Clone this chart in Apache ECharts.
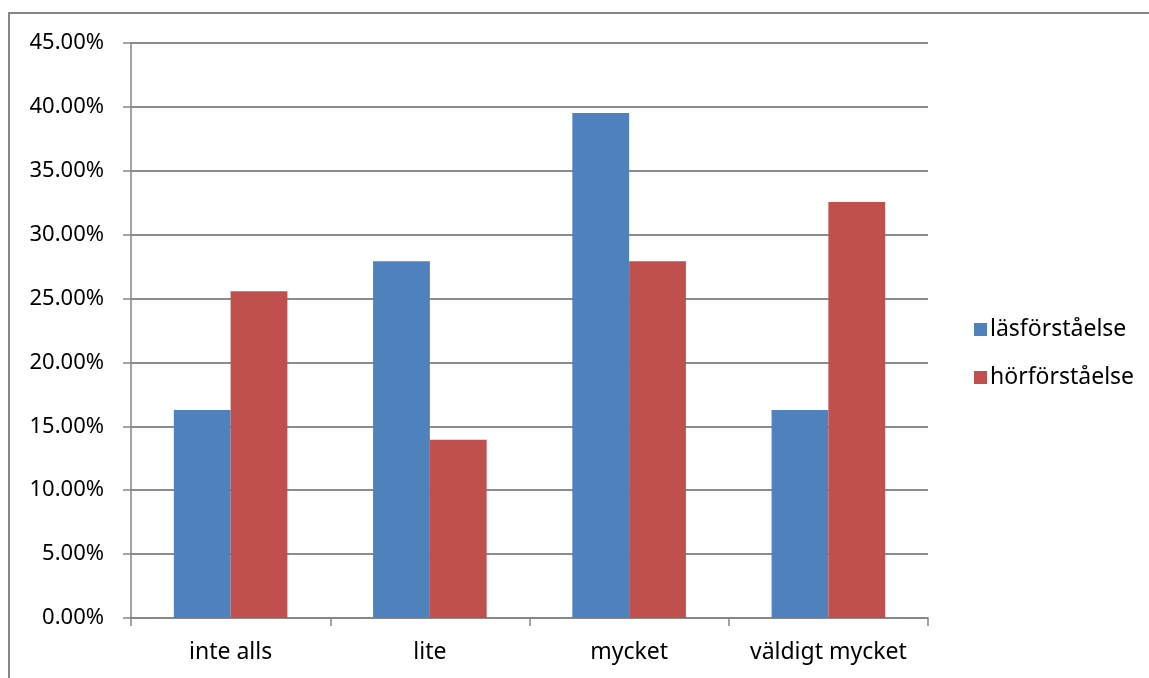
<!DOCTYPE html>
<html>
<head>
<meta charset="utf-8">
<script src="https://cdn.jsdelivr.net/npm/echarts@6/dist/echarts.min.js"></script>
<style>
  html, body { margin: 0; padding: 0; background: #ffffff; }
  #chart { width: 1149px; height: 678px; }
</style>
</head>
<body>
<div id="chart"></div>
<script>
// Response categories
const categories = ['inte alls', 'lite', 'mycket', 'väldigt mycket'];
// Share of responses (%) per category
const lasforstaelse = [16.28, 27.91, 39.53, 16.28];
const horforstaelse = [25.58, 13.95, 27.91, 32.56];
const seriesNames = ['läsförståelse', 'hörförståelse'];
// Value axis range and step (%)
const yMin = 0, yMax = 45, yStep = 5;

const FONT = 'Noto Sans';
const chart = echarts.init(document.getElementById('chart'));

chart.setOption({
  animation: false,
  backgroundColor: '#ffffff',
  textStyle: { fontFamily: FONT },
  graphic: [{
    type: 'rect',
    shape: { x: 9, y: 13, width: 1300, height: 800 },
    style: { fill: 'none', stroke: '#868686', lineWidth: 2 },
    silent: true
  }],
  grid: { left: 131, right: 221, top: 43, bottom: 60 },
  legend: {
    orient: 'vertical',
    left: 969,
    top: 313,
    itemWidth: 13,
    itemHeight: 13,
    itemGap: 25,
    icon: 'rect',
    textStyle: { fontFamily: FONT, fontSize: 23, color: '#000000', padding: [0, 0, 0, -2] },
    data: seriesNames
  },
  xAxis: {
    type: 'category',
    data: categories,
    axisLine: { lineStyle: { color: '#868686', width: 1.5 } },
    axisTick: { show: true, interval: 0, length: 8, alignWithLabel: false, lineStyle: { color: '#868686', width: 1.5 } },
    axisLabel: { interval: 0, color: '#000000', fontFamily: FONT, fontSize: 23, margin: 23 }
  },
  yAxis: {
    type: 'value',
    min: yMin,
    max: yMax,
    interval: yStep,
    axisLine: { show: true, lineStyle: { color: '#868686', width: 1.5 } },
    axisTick: { show: true, length: 8, lineStyle: { color: '#868686', width: 1.5 } },
    axisLabel: {
      color: '#000000', fontFamily: FONT, fontSize: 22, margin: 27,
      formatter: v => v.toFixed(2) + '%'
    },
    splitLine: { show: true, lineStyle: { color: '#8c8c8c', width: 1.8 } }
  },
  series: [
    {
      name: seriesNames[0],
      type: 'bar',
      data: lasforstaelse,
      barGap: '0%',
      barCategoryGap: '43%',
      itemStyle: { color: '#4F81BD' }
    },
    {
      name: seriesNames[1],
      type: 'bar',
      data: horforstaelse,
      barGap: '0%',
      barCategoryGap: '43%',
      itemStyle: { color: '#C0504D' }
    }
  ]
});
</script>
</body>
</html>
